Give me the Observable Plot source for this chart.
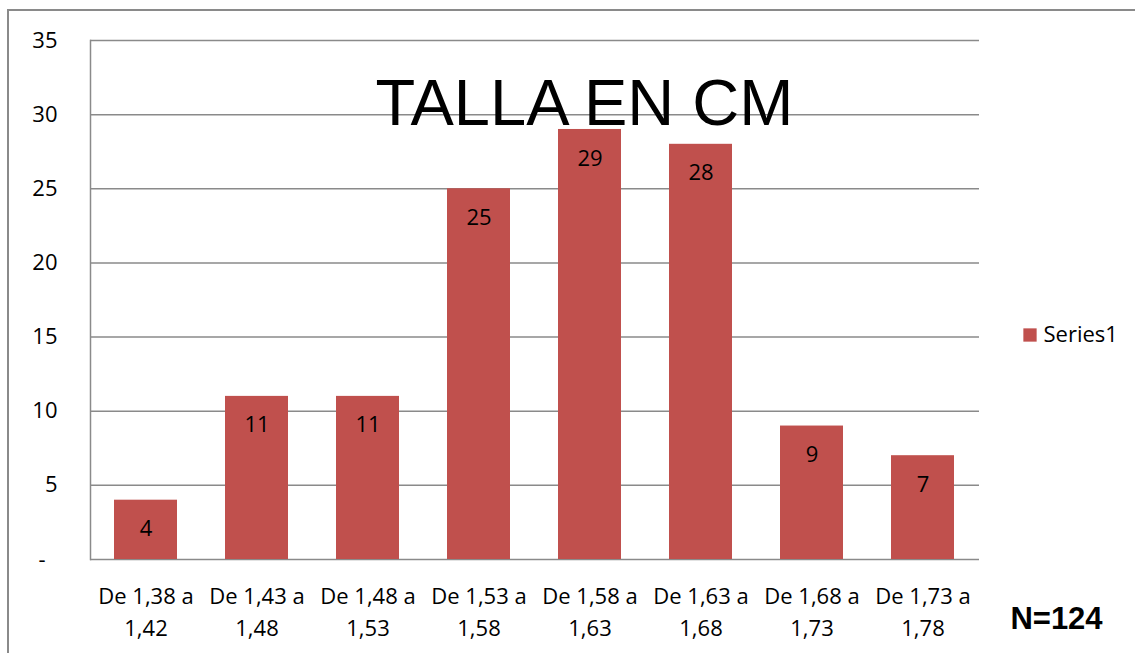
<!DOCTYPE html>
<html>
<head>
<meta charset="utf-8">
<script src="https://cdn.jsdelivr.net/npm/d3@7"></script>
<script src="https://cdn.jsdelivr.net/npm/@observablehq/plot@0.6"></script>
<style>
  html, body { margin: 0; padding: 0; background: #fff; overflow: hidden; }
  #wrap { position: relative; width: 1135px; height: 653px; }
  #frame { position: absolute; left: 7px; top: 9px; width: 1200px; height: 700px; border: 2px solid #8a8a8a; box-sizing: border-box; pointer-events: none; }
  #chart { position: absolute; left: 0; top: 0; }
</style>
</head>
<body>
<div id="wrap"><div id="chart"></div><div id="frame"></div></div>
<script>
const categories = ["De 1,38 a\n1,42", "De 1,43 a\n1,48", "De 1,48 a\n1,53", "De 1,53 a\n1,58", "De 1,58 a\n1,63", "De 1,63 a\n1,68", "De 1,68 a\n1,73", "De 1,73 a\n1,78"];
const values = [4, 11, 11, 25, 29, 28, 9, 7];
const seriesName = "Series1";
const yTicks = [5, 10, 15, 20, 25, 30, 35];
const titleText = "TALLA EN CM";
const noteText = "N=124";

const data = categories.map((c, i) => ({category: c, value: values[i]}));
const barColor = "#C0504D";
const font = "'Open Sans', Lato, sans-serif";

const W = 1135, H = 653;
const mL = 90, mR = 156, mT = 40, mB = 94;

const plot = Plot.plot({
  width: W, height: H,
  marginLeft: mL, marginRight: mR, marginTop: mT, marginBottom: mB,
  style: {fontFamily: font, fontSize: "22px", color: "#000", background: "#fff", overflow: "visible"},
  x: {domain: categories, paddingInner: 0.43, paddingOuter: 0.215, label: null},
  y: {domain: [0, 35], label: null},
  marks: [
    Plot.gridY(yTicks, {stroke: "#8a8a8a", strokeOpacity: 1, strokeWidth: 1.5}),
    Plot.ruleY([0], {stroke: "#8a8a8a", strokeWidth: 1.5}),
    Plot.frame({anchor: "left", stroke: "#8a8a8a", strokeWidth: 1.5}),
    Plot.axisY({ticks: yTicks, tickSize: 0, tickPadding: 33, fontSize: 22, label: null}),
    Plot.axisY({ticks: [0], tickFormat: () => "-", tickSize: 0, tickPadding: 45, fontSize: 22, label: null}),
    Plot.axisX({tickSize: 0, tickPadding: 22, fontSize: 22, lineHeight: 1.45, label: null}),
    Plot.barY(data, {x: "category", y: "value", fill: barColor}),
    Plot.text(data, {x: "category", y: "value", text: d => String(d.value), dy: 29, fontSize: 22, fill: "#000"}),
    Plot.text([titleText], {frameAnchor: "top-left", dx: 584 - mL, dy: 78 - mT, text: d => d, fontSize: 65, fontFamily: "'Liberation Sans', Arial, sans-serif", fill: "#000", textAnchor: "middle"}),
    Plot.text([noteText], {frameAnchor: "top-left", dx: 1056 - mL, dy: 618.5 - mT, lineAnchor: "middle", text: d => d, fontSize: 31, fontWeight: "bold", fontFamily: "'Liberation Sans', Arial, sans-serif", fill: "#000", textAnchor: "middle"}),
    Plot.dot([seriesName], {frameAnchor: "top-left", dx: 1029.5 - mL, dy: 334.5 - mT, symbol: "square", r: 7.5, fill: barColor}),
    Plot.text([seriesName], {frameAnchor: "top-left", dx: 1043 - mL, dy: 334.5 - mT, lineAnchor: "middle", text: d => d, fontSize: 22, textAnchor: "start", fill: "#000"})
  ]
});
document.getElementById("chart").appendChild(plot);
</script>
</body>
</html>
